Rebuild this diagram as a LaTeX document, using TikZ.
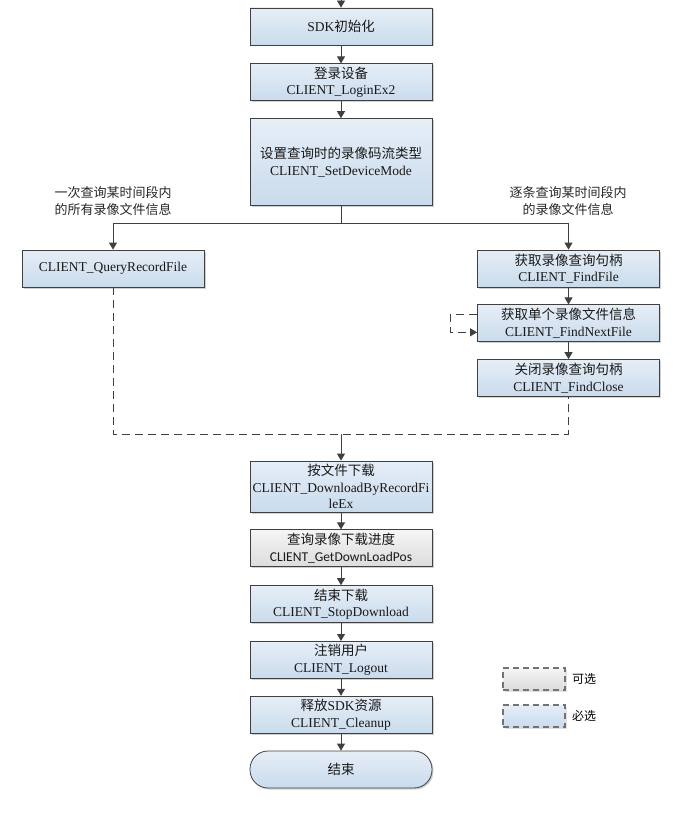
\documentclass[tikz,border=0pt]{standalone}
\usepackage{fontspec}
\setmainfont{Liberation Serif}
\newfontfamily\cjk{Noto Sans CJK SC}
\newfontfamily\calib{Carlito}
\usetikzlibrary{arrows.meta,positioning,shadows}
\definecolor{linec}{HTML}{404040}
\definecolor{boxtop}{HTML}{E6EEF7}
\definecolor{boxbot}{HTML}{C9DBEC}
\definecolor{opttop}{HTML}{F5F5F5}
\definecolor{optbot}{HTML}{DCDCDC}

\begin{document}
\begin{tikzpicture}[
  x=1pt, y=1pt,
  font=\fontsize{13.5}{16.5}\selectfont,
  proc/.style={draw=linec, line width=0.8pt, top color=boxtop, bottom color=boxbot,
               minimum width=182pt, minimum height=37pt, inner sep=1pt, align=center,
               text=black!90,
               drop shadow={shadow xshift=1.5pt, shadow yshift=-1.5pt, fill=black!30, opacity=0.6}},
  optproc/.style={proc, top color=opttop, bottom color=optbot},
  legbox/.style={draw=black!55, line width=1.1pt, dash pattern=on 6pt off 4pt,
                 minimum width=62pt, minimum height=22pt,
                 drop shadow={shadow xshift=1.5pt, shadow yshift=-1.5pt, fill=black!20, opacity=0.6}},
  note/.style={align=center, text=black!85, font=\cjk\fontsize{13}{17}\selectfont},
  arr/.style={-{Triangle[length=7pt, width=8pt]}, draw=linec, line width=0.8pt},
  dline/.style={draw=linec, line width=0.8pt, dash pattern=on 8pt off 5pt}
]
\useasboundingbox (0,0) rectangle (675,-816);
% main column
\coordinate (start) at (341,0);
\node[proc] (sdk) at (341,-26.5) {SDK{\cjk 初始化}};
\node[proc, below=18pt of sdk] (login) {{\cjk 登录设备}\\CLIENT\_LoginEx2};
\node[proc, below=17pt of login, minimum height=87pt] (mode)
      {{\cjk 设置查询时的录像码流类型}\\CLIENT\_SetDeviceMode};
% two ways of querying
\node[proc] (query) at (113,-268.5) {CLIENT\_QueryRecordFile};
\node[proc] (find) at (568.5,-268.5) {{\cjk 获取录像查询句柄}\\CLIENT\_FindFile};
\node[proc, below=17pt of find] (next) {{\cjk 获取单个录像文件信息}\\CLIENT\_FindNextFile};
\node[proc, below=17pt of next] (close) {{\cjk 关闭录像查询句柄}\\CLIENT\_FindClose};
\node[note] (noteL) at (113,-201.5) {一次查询某时间段内\\的所有录像文件信息};
\node[note] (noteR) at (568,-201.5) {逐条查询某时间段内\\的录像文件信息};
% download part
\node[proc, minimum height=51pt] (dl) at (341,-486.5)
      {{\cjk 按文件下载}\\CLIENT\_DownloadByRecordFi\\leEx};
\node[optproc, below=17pt of dl] (pos) {{\cjk 查询录像下载进度}\\{\calib CLIENT\_GetDownLoadPos}};
\node[proc, below=18pt of pos] (stop) {{\cjk 结束下载}\\CLIENT\_StopDownload};
\node[proc, below=18pt of stop] (logout) {{\cjk 注销用户}\\CLIENT\_Logout};
\node[proc, below=17pt of logout] (clean) {{\cjk 释放}SDK{\cjk 资源}\\CLIENT\_Cleanup};
\node[proc, below=17pt of clean, rounded corners=18pt] (fin) {\cjk 结束};
% legend
\node[legbox, top color=opttop, bottom color=optbot] (legopt) at (534,-679) {};
\node[legbox, top color=boxtop, bottom color=boxbot] (legreq) at (534,-716) {};
\node[right=3pt of legopt, font=\cjk\fontsize{12}{14}\selectfont] (legoptt) {可选};
\node[right=3pt of legreq, font=\cjk\fontsize{12}{14}\selectfont] (legreqt) {必选};
% connectors
\draw[arr] (start) -- (sdk);
\foreach \a/\b in {sdk/login,login/mode,find/next,next/close,dl/pos,pos/stop,stop/logout,logout/clean,clean/fin}
  \draw[arr] (\a) -- (\b);
\draw[linec, line width=0.8pt] (mode.south) -- ++(0,-17) coordinate (split);
\draw[arr] (split) -| (query.north);
\draw[arr] (split) -| (find.north);
\draw[arr, dline] ([yshift=8.5pt]next.west) -- ++(-27,0) |- ([yshift=-9pt]next.west);
\coordinate (merge) at (341,-434);
\draw[dline] (query.south) |- (merge) -| (close.south);
\draw[arr] (merge) -- (dl.north);
\end{tikzpicture}
\end{document}
